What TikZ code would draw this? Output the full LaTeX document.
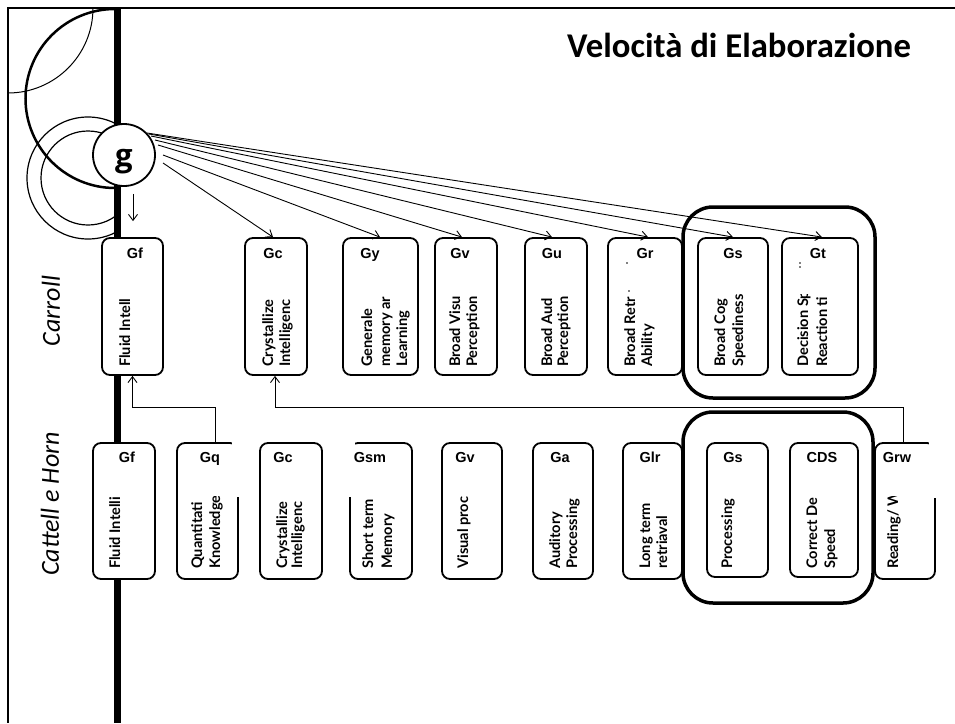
\documentclass[tikz,border=0pt]{standalone}
\usepackage{fontspec}
\setmainfont{Carlito}
\newfontfamily\codefont{Liberation Sans}
\newfontfamily\gfont{Open Sans}
\newfontfamily\vtfont{Lato}
\usetikzlibrary{fit,arrows.meta}
\newcommand\vl[4]{\node[vt] (#1) at (#2+5,#3) {#4};}
\begin{document}
\begin{tikzpicture}[x=1pt,y=-1pt,
 bx/.style={draw, line width=1.8pt, rounded corners=8pt, fill=white, inner sep=0pt},
 grp/.style={draw, line width=3.5pt, rounded corners=30pt, inner sep=0pt},
 code/.style={font=\codefont\bfseries\fontsize{14.5}{16}\selectfont, inner sep=0pt, anchor=base},
 vt/.style={font=\vtfont\bfseries\fontsize{14.6}{17}\selectfont, rotate=90, inner sep=0pt, anchor=base west},
 arr/.style={line width=0.9pt, -{Straight Barb[length=6pt,width=9pt]}},
 side/.style={font=\itshape\fontsize{26}{30}\selectfont, rotate=90, inner sep=0pt},
 dot/.style={fill=black, circle, inner sep=0pt, minimum size=1.8pt}]
\useasboundingbox (0,0) rectangle (955,723);
% frame
\draw[line width=2.5pt] (955,8) -- (8,8) -- (8,723);
% decorative arcs and circles
\draw[line width=1pt] (93,8) arc[start angle=0, end angle=90, radius=85];
\draw[line width=2.5pt] (115,188) arc[start angle=90, end angle=270, radius=89.5];
\begin{scope}
 \clip (0,100) rectangle (116,260);
 \draw[line width=1.2pt] (88,178) circle[radius=61];
 \draw[line width=1.2pt] (88,178) circle[radius=47];
\end{scope}
% thick vertical bar
\draw[line width=6.5pt] (117.5,8) -- (117.5,723);
% g
\node[circle, draw, line width=1.8pt, fill=white, minimum size=62pt, inner sep=0pt] (g) at (124,155) {};
\node[font=\gfont\bfseries\fontsize{31}{34}\selectfont, inner sep=0pt] (gl) at (124,162) {g};
\node[font=\bfseries\fontsize{34.7}{40}\selectfont, anchor=base west, inner sep=0pt] (title) at (567,57) {Velocità di Elaborazione};
\node[side] (lcar) at (51,311) {Carroll};
\node[side] (lch) at (50,504) {Cattell e Horn};
% ---------------- Carroll row
\node[bx, fit={(102,238)(163,375)}] (cGf) {};
\node[code] (cGf-c) at (135,258) {Gf};
\begin{scope}\clip (102,294) rectangle (163,375); \vl{cGf-t1}{125}{367}{Fluid Intell}\end{scope}
\node[bx, fit={(245,238)(307,375)}] (cGc) {};
\node[code] (cGc-c) at (273,258) {Gc};
\begin{scope}\clip (245,294) rectangle (307,375); \vl{cGc-t1}{268}{367}{Crystallize}\vl{cGc-t2}{285}{367}{Intelligenc}\end{scope}
\node[bx, fit={(343,238)(418,375)}] (cGy) {};
\node[code] (cGy-c) at (370,258) {Gy};
\begin{scope}\clip (343,294) rectangle (418,375); \vl{cGy-t1}{367}{367}{Generale}\vl{cGy-t2}{385}{367}{memory ar}\vl{cGy-t3}{402}{367}{Learning}\end{scope}
\node[bx, fit={(435,238)(497,375)}] (cGv) {};
\node[code] (cGv-c) at (460,258) {Gv};
\begin{scope}\clip (435,294) rectangle (497,375); \vl{cGv-t1}{455}{367}{Broad Visu}\vl{cGv-t2}{472}{367}{Perception}\end{scope}
\node[bx, fit={(525,238)(587,375)}] (cGu) {};
\node[code] (cGu-c) at (552,258) {Gu};
\begin{scope}\clip (525,294) rectangle (587,375); \vl{cGu-t1}{547}{367}{Broad Aud}\vl{cGu-t2}{563}{367}{Perception}\end{scope}
\node[bx, fit={(608,238)(682,375)}] (cGr) {};
\node[code] (cGr-c) at (645,258) {Gr};
\begin{scope}\clip (608,294) rectangle (682,375); \vl{cGr-t1}{630}{367}{Broad Retr}\vl{cGr-t2}{647}{367}{Ability}\end{scope}
\node[dot] (cGr-d1) at (627,263) {};
\node[dot] (cGr-d2) at (629,291) {};
\node[bx, fit={(698,238)(768,375)}] (cGs) {};
\node[code] (cGs-c) at (733,258) {Gs};
\begin{scope}\clip (698,294) rectangle (768,375); \vl{cGs-t1}{720}{367}{Broad Cog}\vl{cGs-t2}{738}{367}{Speediness}\end{scope}
\node[bx, fit={(782,238)(858,375)}] (cGt) {};
\node[code] (cGt-c) at (818,258) {Gt};
\begin{scope}\clip (782,294) rectangle (858,375); \vl{cGt-t1}{803}{367}{Decision Sp}\vl{cGt-t2}{822}{367}{Reaction ti}\end{scope}
\node[dot] (cGt-d1) at (800,263) {};
\node[dot] (cGt-d2) at (800,267) {};
% ---------------- Cattell e Horn row
\node[bx, fit={(93,443)(155,579)}] (hGf) {};
\node[code] (hGf-c) at (127,462) {Gf};
\begin{scope}\clip (93,496) rectangle (155,579); \vl{hGf-t1}{115}{569}{Fluid Intelli}\end{scope}
\node[bx, fit={(177,443)(238,579)}] (hGq) {};
\fill[white] (232,440) rectangle (241,497);
\node[code] (hGq-c) at (210,462) {Gq};
\begin{scope}\clip (177,496) rectangle (238,579); \vl{hGq-t1}{197}{569}{Quantitati}\vl{hGq-t2}{215}{569}{Knowledge}\end{scope}
\node[bx, fit={(260,443)(322,579)}] (hGc) {};
\node[code] (hGc-c) at (283,462) {Gc};
\begin{scope}\clip (260,496) rectangle (322,579); \vl{hGc-t1}{282}{569}{Crystallize}\vl{hGc-t2}{297}{569}{Intelligenc}\end{scope}
\node[bx, fit={(350,443)(412,579)}] (hGsm) {};
\fill[white] (347,440) rectangle (355,497);
\node[code] (hGsm-c) at (370,462) {Gsm};
\begin{scope}\clip (350,496) rectangle (412,579); \vl{hGsm-t1}{368}{569}{Short term}\vl{hGsm-t2}{387}{569}{Memory}\end{scope}
\node[bx, fit={(442,443)(502,579)}] (hGv) {};
\node[code] (hGv-c) at (465,462) {Gv};
\begin{scope}\clip (442,496) rectangle (502,579); \vl{hGv-t1}{463}{569}{Visual proc}\end{scope}
\node[bx, fit={(533,443)(593,579)}] (hGa) {};
\node[code] (hGa-c) at (560,462) {Ga};
\begin{scope}\clip (533,496) rectangle (593,579); \vl{hGa-t1}{555}{569}{Auditory}\vl{hGa-t2}{572}{569}{Processing}\end{scope}
\node[bx, fit={(623,443)(682,579)}] (hGlr) {};
\node[code] (hGlr-c) at (650,462) {Glr};
\begin{scope}\clip (623,496) rectangle (682,579); \vl{hGlr-t1}{645}{569}{Long term}\vl{hGlr-t2}{662}{569}{retriaval}\end{scope}
\node[bx, fit={(707,443)(768,577)}] (hGs) {};
\node[code] (hGs-c) at (733,462) {Gs};
\begin{scope}\clip (707,496) rectangle (768,577); \vl{hGs-t1}{727}{569}{Processing}\end{scope}
\node[bx, fit={(790,443)(858,577)}] (hCDS) {};
\node[code] (hCDS-c) at (822,462) {CDS};
\begin{scope}\clip (790,496) rectangle (858,577); \vl{hCDS-t1}{812}{569}{Correct De}\vl{hCDS-t2}{830}{569}{Speed}\end{scope}
\node[bx, fit={(875,443)(935,579)}] (hGrw) {};
\fill[white] (929,440) rectangle (938,498);
\node[code] (hGrw-c) at (897,462) {Grw};
\begin{scope}\clip (875,496) rectangle (935,579); \vl{hGrw-t1}{893}{569}{Reading/ W}\end{scope}
% group boxes
\node[grp, fit={(683,207)(875,398)}] (cgrp) {};
\node[grp, fit={(683,412)(873,603)}] (hgrp) {};
% connectors from g
\draw[arr] ([xshift=9pt,yshift=-7pt]g.south) -- ([xshift=0.5pt,yshift=16pt]cGf.north);
\draw[arr] ([xshift=39pt,yshift=-8pt]g.center) -- ([xshift=-3pt]cGc.north);
\draw[arr] ([xshift=39pt,yshift=0pt]g.center) -- ([xshift=-0.5pt]cGy.north);
\draw[arr] ([xshift=34pt,yshift=10pt]g.center) -- ([xshift=-4pt]cGv.north);
\draw[arr] ([xshift=31pt,yshift=15pt]g.center) -- ([xshift=-4pt]cGu.north);
\draw[arr] ([xshift=27pt,yshift=19pt]g.center) -- ([xshift=3pt]cGr.north);
\draw[arr] ([xshift=25pt,yshift=21pt]g.center) -- ([xshift=0pt]cGs.north);
\draw[arr] ([xshift=23pt,yshift=22pt]g.center) -- ([xshift=2pt]cGt.north);
% cross-model connectors
\draw[arr] ([xshift=7.5pt]hGq.north) -- ++(0,-35) -| (cGf.south);
\draw[arr] ([xshift=-2pt]hGrw.north) -- ++(0,-35) -| ([xshift=-1pt]cGc.south);
\end{tikzpicture}
\end{document}
